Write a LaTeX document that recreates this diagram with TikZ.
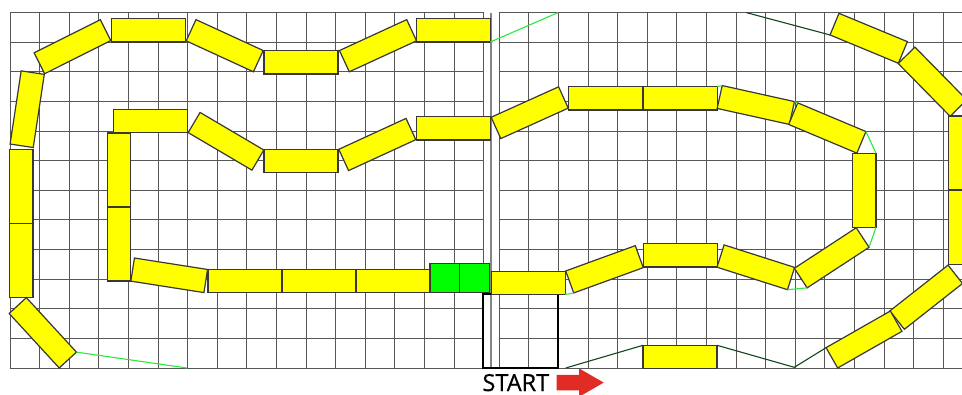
\documentclass[tikz,border=0pt]{standalone}
\usepackage{fontspec}
\setmainfont{Open Sans}
\newfontfamily\startfont[FakeBold=0.6]{Open Sans}
\usetikzlibrary{arrows.meta,positioning,shapes.arrows}
\definecolor{trackyellow}{RGB}{255,255,0}
\definecolor{trackgreen}{RGB}{0,255,0}
\definecolor{linkgreen}{RGB}{40,235,60}
\definecolor{linkdark}{RGB}{20,70,30}
\definecolor{startred}{RGB}{224,44,36}

\begin{document}
\begin{tikzpicture}[x=1pt,y=-1pt,
  gridline/.style={draw=black!66, line width=1.3pt},
  piece/.style={draw=black!78, line width=1.2pt, fill=trackyellow, minimum width=74pt, minimum height=23.4pt, inner sep=0pt, outer sep=0pt},
  cell/.style={draw=black!78, line width=1.2pt, fill=trackgreen, minimum width=29.6pt, minimum height=29.4pt, inner sep=0pt, outer sep=0pt},
  startbox/.style={draw=black, line width=1.9pt, minimum width=74.7pt, minimum height=74pt, inner sep=0pt, outer sep=0pt},
  link/.style={draw=linkgreen, line width=1.1pt},
  darklink/.style={draw=linkdark, line width=1.1pt},
  startlabel/.style={font=\startfont\fontsize{23.5}{23.5}\selectfont, inner sep=0pt, outer sep=0pt},
  startarrow/.style={single arrow, fill=startred, minimum height=47pt, single arrow head extend=6.5pt, single arrow tip angle=60, inner sep=0pt, outer sep=0pt}
]
\clip (0,0) rectangle (962,394);
\fill[white] (0,0) rectangle (962,394);

% grid, left and right part
\foreach \i in {0,...,16} \draw[gridline] ({round(9.5+29.6*\i)+0.5},12.5) -- ({round(9.5+29.6*\i)+0.5},368.5);
\foreach \i in {0,...,15} \draw[gridline] ({round(498.7+29.6*\i)+0.5},12.5) -- ({round(498.7+29.6*\i)+0.5},368.5);
\foreach \j in {0,...,12} {
  \draw[gridline] (9.5,{round(12.1+29.62*\j)+0.5}) -- (483.5,{round(12.1+29.62*\j)+0.5});
  \draw[gridline] (498.7,{round(12.1+29.62*\j)+0.5}) -- (962,{round(12.1+29.62*\j)+0.5});
}
\draw[gridline, line width=2pt, draw=black!48] (491,12.6) -- (491,368);

\node[startbox] (box) at (520.6,331) {};
\node[startlabel, anchor=north west] (lbl) at (482.5,374) {START};
\node[startarrow, anchor=west] (arr) at (556.7,382.6) {\rule{0pt}{15pt}};

% outer loop
\node[piece, rotate=26.6] (a1) at (72.5,46.7) {};
\node[piece] (a2) at (148.3,30.3) {};
\node[piece, rotate=-24.7] (a3) at (224.7,45.7) {};
\node[piece] (a4) at (301,62.3) {};
\node[piece, rotate=24.7] (a5) at (378,45.7) {};
\node[piece] (a6) at (453.3,30.3) {};
\node[piece, rotate=81.4] (l1) at (27.2,109.2) {};
\node[piece, rotate=90] (l2) at (21.2,186.3) {};
\node[piece, rotate=90] (l3) at (21.2,260.3) {};
\node[piece, rotate=-47.4] (l4) at (42.8,332.8) {};

% inner loop
\node[piece] (i1) at (150.5,121) {};
\node[piece, rotate=-30.5] (i2) at (226,141.3) {};
\node[piece] (i3) at (301,161) {};
\node[piece, rotate=24.7] (i4) at (377.3,144.5) {};
\node[piece] (i5) at (453.3,128.3) {};
\node[piece, rotate=90] (v1) at (118.8,170) {};
\node[piece, rotate=90] (v2) at (118.8,244) {};
\node[piece, rotate=-8.9] (b1) at (169.2,275.3) {};
\node[piece] (b2) at (245,281) {};
\node[piece] (b3) at (319,281) {};
\node[piece] (b4) at (393,281) {};
\node[cell] (g1) at (444.8,278) {};
\node[cell] (g2) at (474.5,278) {};
\node[piece] (s) at (528.2,282.8) {};

% right part
\node[piece, rotate=20] (r1) at (604.5,269.3) {};
\node[piece] (r2) at (680.3,255.3) {};
\node[piece, rotate=-17.7] (r3) at (755.8,267.3) {};
\node[piece, rotate=33.2] (r4) at (831.7,257.8) {};
\node[piece, rotate=90] (r5) at (864.3,190.3) {};
\node[piece, rotate=24.3] (u1) at (529.7,112.7) {};
\node[piece] (u2) at (605.7,98.3) {};
\node[piece] (u3) at (680.3,98.3) {};
\node[piece, rotate=-12.5] (u4) at (755.8,105) {};
\node[piece, rotate=-22.8] (u5) at (827.3,128) {};
\node[piece] (d1) at (680,357) {};

% far right
\node[piece, rotate=-22.5] (o1) at (868.7,38.3) {};
\node[piece, rotate=-45.5] (o2) at (932.5,81.7) {};
\node[piece, rotate=90] (o3) at (960.3,153) {};
\node[piece, rotate=90] (o4) at (960.3,227.8) {};
\node[piece, rotate=38.2] (o5) at (926.2,297.2) {};
\node[piece, rotate=29.7] (o6) at (864,339.5) {};

% free ends of the links
\coordinate (e1) at (558,12.6);
\coordinate (e2) at (187,368);
\coordinate (e3) at (746.3,12.6);
\coordinate (e4) at (565.7,368);
\coordinate (e5) at (794.3,367.3);

\draw[link] (a6.south east) -- (e1);
\draw[link] (l4.north east) -- (e2);
\draw[link] (s.south east) -- (r1.south west);
\draw[link] (u3.north east) -- (u4.north west);
\draw[link] (u4.north east) -- (u5.north west);
\draw[link] (u5.north east) -- (r5.south east);
\draw[link] (r5.south west) -- (r4.south east);
\draw[link] (r4.south west) -- (r3.south east);
\draw[darklink] (e3) -- (o1.south west);
\draw[darklink] (e4) -- (d1.north west);
\draw[darklink] (d1.north east) -- (e5) -- (o6.north west);
\end{tikzpicture}
\end{document}
